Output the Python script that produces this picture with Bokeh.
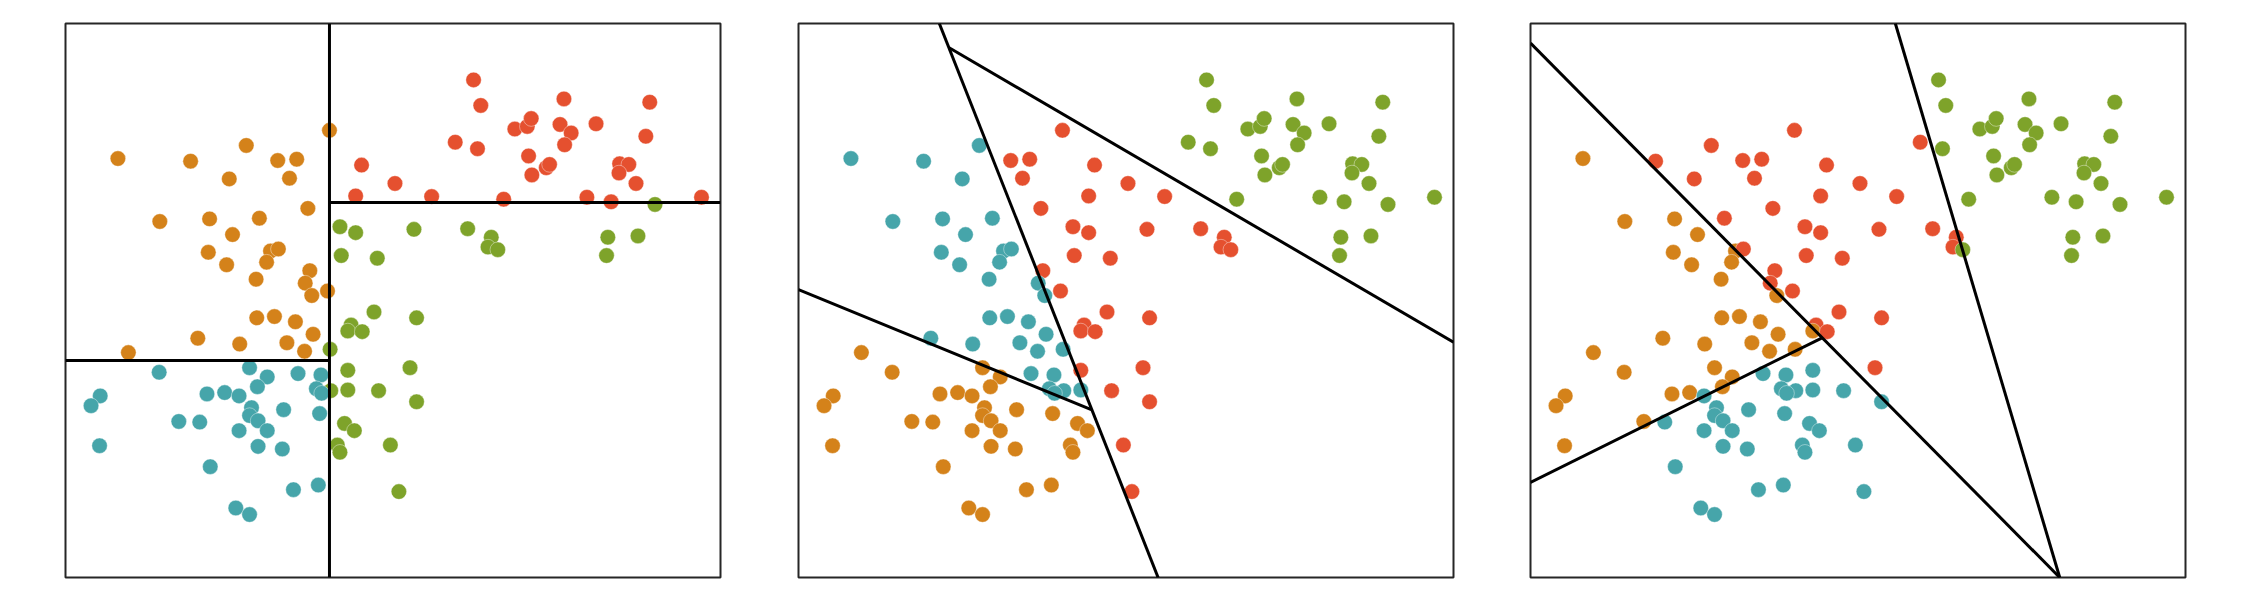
from bokeh.plotting import figure
from bokeh.layouts import row
from bokeh.models import Range1d, ColumnDataSource
from bokeh.embed import file_html
from bokeh.resources import INLINE

# ---- data (same points in all three panels) ----
x = [0.80, 1.91, 2.76, 3.24, 3.53, 2.50, 3.42, 4.03, 3.70, 1.44,
     2.20, 2.96, 2.55, 2.18, 3.13, 3.25, 3.07, 2.46, 3.73, 2.91,
     3.66, 3.76, 4.00, 4.52, 4.43, 4.19, 4.43, 4.21, 4.76, 4.71,
     6.23, 6.34, 5.95, 6.29, 6.86, 7.05, 7.11, 7.61, 7.55, 7.72,
     7.62, 8.10, 8.92, 8.86, 7.07, 7.34, 7.39, 7.12, 8.46, 8.60,
     8.45, 8.71, 5.03, 5.59, 6.69, 7.96, 8.33, 9.71, 9.00, 5.32,
     6.14, 6.50, 6.45, 6.60, 8.28, 8.74, 8.26, 2.92, 3.19, 3.51,
     3.78, 2.02, 2.66, 3.38, 3.65, 0.96, 4.36, 4.31, 4.53, 4.04,
     4.31, 4.05, 4.31, 4.78, 4.26, 4.41, 4.15, 4.19, 4.96, 5.09,
     1.43, 2.81, 3.08, 2.93, 3.55, 3.90, 3.83, 3.91, 0.53, 0.39,
     2.16, 2.43, 2.65, 2.84, 2.81, 2.94, 3.33, 3.88, 1.73, 2.05,
     2.65, 3.08, 0.52, 2.94, 3.31, 2.21, 3.48, 3.86, 2.60, 2.81,
     5.36, 5.26, 5.36]
y = [6.39, 6.35, 6.59, 6.36, 6.38, 6.08, 6.09, 6.82, 5.63, 5.43,
     5.47, 5.48, 5.23, 4.96, 4.98, 5.01, 4.81, 4.77, 4.68, 4.55,
     4.49, 4.30, 4.37, 6.29, 5.82, 5.35, 5.26, 4.91, 4.87, 4.05,
     7.59, 7.20, 6.64, 6.54, 6.84, 6.88, 7.00, 7.30, 6.91, 6.78,
     6.60, 6.92, 7.25, 6.73, 6.43, 6.25, 6.30, 6.14, 6.31, 6.30,
     6.17, 6.01, 6.01, 5.81, 5.77, 5.80, 5.73, 5.80, 5.69, 5.31,
     5.32, 5.19, 5.04, 5.00, 5.19, 5.21, 4.91, 3.96, 3.98, 3.90,
     3.71, 3.65, 3.56, 3.58, 3.45, 3.43, 3.85, 3.76, 3.75, 3.48,
     3.16, 2.85, 2.86, 2.85, 2.35, 2.24, 2.02, 1.91, 2.02, 1.31,
     3.13, 3.20, 3.06, 2.91, 3.11, 3.09, 2.88, 2.81, 2.77, 2.62,
     2.80, 2.82, 2.77, 2.59, 2.47, 2.39, 2.56, 2.50, 2.38, 2.37,
     2.24, 2.24, 2.01, 2.00, 1.96, 1.69, 1.34, 1.41, 1.06, 0.96,
     3.96, 3.20, 2.68]

# cluster labels per panel (O=orange, R=red, G=green, T=teal)
labels_1 = list("OOOOOOOOOOOOOOOOOOOOOOO" "RR" "GGGGG"
                "RRRRRRRRRRRRRRRRRRRRRRRRRRRR" "G" "GGGGGGGG"
                "OOOOOOOOO" "GGGGGGGGGGGGGG"
                "TTTTTTTTTTTTTTTTTTTTTTTTTTTTTT" "GGG")
labels_2 = list("TTTRRTRRR" "TTTTTTTTT" "R" "TTT" "R" "RRRRRRR"
                "GGGGGGGGGGGGGGGGGGGGGG" "RR" "GGGG" "G" "RRRRR" "GGG"
                "TTTTTTTT" "O" "RRR" "T" "R" "TT" "R" "OOOO" "RR"
                "OOOO" "TTTT" "OOOOOOOOOOOOOOOOOOOOOO" "RRR")
labels_3 = list("ORRRRRRRR" "OOR" "OOO" "R" "OO" "R" "O" "R" "O" "R"
                "RRRRRRR" "GG" "R" "GGGGGGGGGGGGGGGGGGG" "RR" "GGGGG"
                "RRRR" "G" "GGG" "OOOOOOOOO" "R" "O" "R" "O"
                "TTTTTTTTTT" "OOOO" "TTTT" "OOOO" "TTTTTT" "O" "TTT" "O"
                "TTTTTTT" "RR" "T")

palette = {"O": "#d4821a", "R": "#e5502f", "G": "#7ea32a", "T": "#46a5aa"}

# boundary segments per panel
seg1_x0 = [4.03, 4.03, 0.00]
seg1_y0 = [0.00, 5.72, 3.31]
seg1_x1 = [4.03, 10.00, 4.03]
seg1_y1 = [8.45, 5.72, 3.31]

seg2_x0 = [2.15, 2.30, 0.00]
seg2_y0 = [8.45, 8.08, 4.39]
seg2_x1 = [5.49, 10.00, 4.47]
seg2_y1 = [0.00, 3.59, 2.56]

seg3_x0 = [0.00, 5.57, 0.00]
seg3_y0 = [8.15, 8.45, 1.45]
seg3_x1 = [8.08, 8.08, 4.46]
seg3_y1 = [0.00, 0.00, 3.66]


def make_panel(labels, sx0, sy0, sx1, sy1, left, right):
    p = figure(frame_width=655, frame_height=554,
               x_range=Range1d(0, 10), y_range=Range1d(0, 8.45),
               toolbar_location=None, output_backend="svg",
               x_axis_location=None, y_axis_location=None,
               min_border_left=left, min_border_right=right,
               min_border_top=23, min_border_bottom=23)
    p.xgrid.visible = False
    p.ygrid.visible = False
    p.outline_line_color = "#262626"
    p.outline_line_width = 2
    p.background_fill_color = "white"
    p.border_fill_color = "white"
    src = ColumnDataSource(dict(x=x, y=y, c=[palette[k] for k in labels]))
    p.scatter("x", "y", source=src, size=15.5, fill_color="c",
              line_color="white", line_width=0.4)
    p.segment(x0=sx0, y0=sy0, x1=sx1, y1=sy1, line_color="black",
              line_width=3)
    return p


p1 = make_panel(labels_1, seg1_x0, seg1_y0, seg1_x1, seg1_y1, 65, 39)
p2 = make_panel(labels_2, seg2_x0, seg2_y0, seg2_x1, seg2_y1, 39, 38)
p3 = make_panel(labels_3, seg3_x0, seg3_y0, seg3_x1, seg3_y1, 39, 65)

layout = row(p1, p2, p3)
open("out.html", "w").write(file_html(layout, INLINE))
